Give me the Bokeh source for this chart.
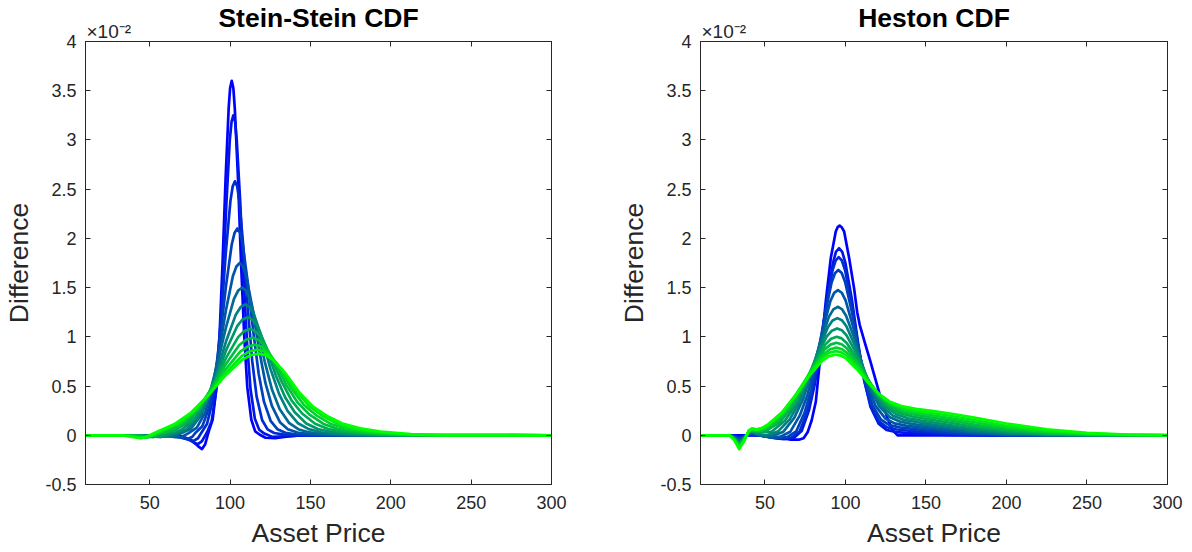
from bokeh.plotting import figure
from bokeh.models import Range1d, LinearAxis, FixedTicker, Title
from bokeh.layouts import row
from bokeh.embed import file_html
from bokeh.resources import INLINE

# ---------------- data (values in units of 1e-2) ----------------
titles = ["Stein-Stein CDF", "Heston CDF"]
x_label = "Asset Price"
y_label = "Difference"
x_ticks = [50, 100, 150, 200, 250, 300]
y_ticks = [-0.5, 0, 0.5, 1, 1.5, 2, 2.5, 3, 3.5, 4]
y_tick_labels = ["-0.5", "0", "0.5", "1", "1.5", "2", "2.5", "3", "3.5", "4"]
exp_text = "\u00d710\u207b\u00b2"

# Stein-Stein curves (x, difference), blue -> green
ss_00 = [(10,0),(60,0),(70,-0.01),(76,-0.05),(80,-0.11),(82.5,-0.14),(84.5,-0.09),(86.7,0.04),(89.1,0.158),(91.5,0.486),(93.4,1.001),(95.3,1.753),(97.2,2.614),(99.1,3.323),(100.0,3.528),(101,3.6),(102.0,3.528),(102.9,3.323),(104.9,2.614),(106.8,1.753),(108.8,1.001),(110.7,0.486),(113.2,0.158),(115.6,0.04),(118.5,0.005),(122,-0.025),(128,-0.03),(135,-0.015),(145,0),(300,0)]
ss_01 = [(10,0),(60,0),(68,-0.01),(74,-0.04),(78,-0.08),(80,-0.09),(82.5,-0.06),(85.8,0.036),(88.5,0.143),(91.2,0.439),(93.4,0.904),(95.5,1.583),(97.7,2.36),(99.8,3.0),(100.9,3.185),(102,3.25),(103.1,3.185),(104.1,3.002),(106.3,2.366),(108.4,1.592),(110.6,0.923),(112.7,0.467),(115.4,0.169),(118.1,0.056),(121.3,0.017),(126,-0.015),(134,-0.01),(145,0),(300,0)]
ss_02 = [(10,0),(58,0),(66,-0.01),(72,-0.035),(77,-0.06),(80,-0.03),(82.2,0.028),(85.6,0.114),(89.1,0.348),(91.9,0.717),(94.7,1.256),(97.4,1.873),(100.2,2.381),(101.6,2.528),(103,2.58),(104.4,2.528),(105.7,2.384),(108.4,1.883),(111.1,1.271),(113.8,0.748),(116.5,0.393),(119.9,0.155),(123.3,0.06),(127.4,0.023),(133.5,0.006),(140.2,0.001),(300,0)]
ss_03 = [(10,0),(55,0),(64,-0.01),(70,-0.025),(74,-0.035),(76.5,-0.015),(78.3,0.023),(82.7,0.092),(87.0,0.284),(90.5,0.584),(94.0,1.023),(97.5,1.525),(101.0,1.938),(102.8,2.058),(104.5,2.1),(106.2,2.058),(107.8,1.942),(111.1,1.537),(114.5,1.04),(117.8,0.622),(121.1,0.339),(125.3,0.143),(129.4,0.062),(134.4,0.026),(141.9,0.008),(150.2,0.002),(300,0)]
ss_04 = [(10,0),(52,0),(62,-0.01),(66,-0.02),(70,-0.015),(73.9,0.019),(79.3,0.077),(84.6,0.236),(88.9,0.487),(93.2,0.852),(97.4,1.271),(101.7,1.615),(103.9,1.715),(106,1.75),(108.0,1.715),(110.0,1.619),(114.0,1.285),(118.0,0.872),(122.0,0.529),(126.0,0.298),(131.0,0.133),(135.9,0.062),(141.9,0.028),(150.9,0.009),(160.9,0.002),(300,0)]
ss_05 = [(10,0),(50,0),(58,-0.01),(64,-0.015),(69.2,0.017),(75.6,0.066),(82.0,0.203),(87.1,0.417),(92.2,0.731),(97.3,1.089),(102.4,1.385),(105.0,1.47),(107.5,1.5),(109.8,1.47),(112.2,1.389),(116.8,1.104),(121.5,0.751),(126.1,0.462),(130.8,0.268),(136.6,0.126),(142.4,0.062),(149.4,0.029),(159.9,0.009),(171.5,0.002),(300,0)]
ss_06 = [(10,0),(46,0),(55,-0.01),(60,-0.015),(65.4,0.015),(72.8,0.059),(80.1,0.18),(86.0,0.37),(91.9,0.648),(97.7,0.966),(103.6,1.228),(106.6,1.303),(109.5,1.33),(112.1,1.303),(114.7,1.232),(120.0,0.982),(125.2,0.67),(130.5,0.418),(135.7,0.249),(142.3,0.122),(148.9,0.063),(156.7,0.031),(168.5,0.01),(181.7,0.002),(300,0)]
ss_07 = [(10,0),(44,0),(52,-0.012),(57,-0.018),(61.1,0.004),(69.5,0.053),(77.8,0.162),(84.4,0.334),(91.1,0.584),(97.7,0.871),(104.4,1.108),(107.7,1.176),(111,1.2),(113.9,1.176),(116.8,1.113),(122.6,0.888),(128.4,0.608),(134.3,0.384),(140.1,0.236),(147.4,0.12),(154.6,0.064),(163.3,0.032),(176.4,0.011),(191.0,0.002),(300,0)]
ss_08 = [(10,0),(42,0),(48,-0.012),(52,-0.02),(56,0.0),(65.4,0.048),(74.8,0.146),(82.3,0.3),(89.9,0.526),(97.4,0.784),(105.0,0.997),(108.7,1.058),(112.5,1.08),(115.7,1.058),(119.0,1.002),(125.4,0.801),(131.9,0.55),(138.3,0.352),(144.8,0.221),(152.9,0.117),(161.0,0.064),(170.6,0.033),(185.2,0.011),(201.3,0.002),(300,0)]
ss_09 = [(10,0),(38,0),(45,-0.012),(49,-0.022),(51.1,-0.005),(61.6,0.044),(72.1,0.134),(80.5,0.275),(88.8,0.482),(97.2,0.719),(105.6,0.914),(109.8,0.97),(114,0.99),(117.5,0.97),(121.0,0.919),(128.1,0.737),(135.1,0.507),(142.2,0.329),(149.2,0.212),(158.1,0.115),(166.9,0.065),(177.4,0.034),(193.3,0.011),(210.9,0.002),(300,0)]
ss_10 = [(10,0),(36,0),(42,-0.015),(46.5,-0.025),(52,0.0),(58.0,0.04),(69.5,0.124),(78.7,0.256),(87.9,0.448),(97.1,0.668),(106.3,0.849),(110.9,0.902),(115.5,0.92),(119.3,0.902),(123.1,0.855),(130.7,0.686),(138.3,0.473),(145.8,0.311),(153.4,0.205),(162.9,0.114),(172.4,0.066),(183.8,0.035),(200.8,0.012),(219.8,0.002),(300,0)]
ss_11 = [(10,0),(34,0),(40,-0.015),(45,-0.028),(50,-0.008),(55.1,0.035),(67.4,0.117),(77.4,0.242),(87.3,0.424),(97.2,0.632),(107.1,0.803),(112.0,0.853),(117,0.87),(121.0,0.853),(125.0,0.809),(133.0,0.651),(141.0,0.45),(149.1,0.299),(157.1,0.201),(167.1,0.115),(177.1,0.068),(189.1,0.036),(207.2,0.012),(227.2,0.002),(300,0)]
ss_12 = [(10,0),(32,0),(38,-0.015),(44,-0.03),(48,-0.015),(51.9,0.015),(65.1,0.112),(75.7,0.231),(86.3,0.404),(96.8,0.603),(107.4,0.766),(112.7,0.813),(118,0.83),(122.2,0.813),(126.4,0.772),(134.8,0.623),(143.2,0.432),(151.6,0.291),(160.0,0.199),(170.5,0.116),(181.0,0.07),(193.6,0.037),(212.5,0.012),(233.5,0.002),(300,0)]

# Heston curves (x, difference), blue -> green
hs_00 = [(10,0),(50,0),(58,-0.02),(66,-0.045),(71,-0.045),(74,-0.03),(76.5,0.03),(79,0.15),(81.6,0.34),(84.7,0.85),(87.8,1.36),(90.9,1.80),(94,2.07),(95.2,2.115),(96.4,2.13),(97.8,2.11),(99.2,2.07),(102.3,1.80),(105.4,1.49),(107.3,1.25),(108.9,1.12),(112.4,0.92),(115.5,0.75),(117.9,0.61),(122.1,0.37),(126.2,0.17),(129.3,0.05),(132.4,0.0),(300,0)]
hs_01 = [(10,0),(28,0),(34,-0.012),(40,0.004),(45,0),(50,-0.01),(56,-0.03),(62,-0.04),(68.1,-0.024),(72.8,0.044),(77.4,0.257),(81.1,0.528),(84.8,0.925),(88.6,1.379),(92.3,1.754),(94.1,1.862),(96,1.9),(98.0,1.863),(99.9,1.757),(103.9,1.39),(107.8,0.944),(111.7,0.555),(115.6,0.289),(120.6,0.118),(125.5,0.055),(131.4,0.033),(150,0.012),(165,0.004),(180,0.001),(200,0),(300,0)]
hs_02 = [(10,0),(28,0),(31,-0.008),(34,-0.023),(37,-0.01),(40,0.008),(42,0.012),(45,0.0),(48,-0.005),(54,-0.02),(60,-0.035),(66.7,-0.02),(71.6,0.04),(76.4,0.244),(80.3,0.503),(84.2,0.881),(88.0,1.314),(91.9,1.671),(93.9,1.774),(95.8,1.81),(97.8,1.775),(99.8,1.676),(103.8,1.332),(107.8,0.915),(111.8,0.55),(115.8,0.301),(120.8,0.141),(125.8,0.081),(131.8,0.059),(150,0.029),(165,0.012),(180,0.003),(200,0),(300,0)]
hs_03 = [(10,0),(28,0),(31,-0.012),(34,-0.035),(37,-0.015),(40,0.012),(42,0.018),(45,0.005),(52,-0.015),(58,-0.03),(64.1,-0.017),(69.4,0.039),(74.6,0.227),(78.8,0.467),(83.0,0.818),(87.2,1.22),(91.4,1.551),(93.5,1.646),(95.6,1.68),(97.7,1.648),(99.8,1.558),(104.1,1.244),(108.3,0.864),(112.5,0.531),(116.8,0.304),(122.1,0.158),(127.3,0.103),(133.7,0.08),(150,0.049),(165,0.024),(180,0.009),(200,0.002),(225,0),(300,0)]
hs_04 = [(10,0),(28,0),(31,-0.017),(34,-0.047),(37,-0.02),(40,0.017),(42,0.023),(45,0.008),(49,-0.01),(54,-0.025),(59.7,-0.014),(65.7,0.035),(71.6,0.199),(76.4,0.41),(81.1,0.718),(85.9,1.071),(90.6,1.361),(93.0,1.446),(95.4,1.475),(97.7,1.448),(100.1,1.37),(104.8,1.102),(109.4,0.776),(114.1,0.491),(118.8,0.296),(124.7,0.171),(130.5,0.121),(137.5,0.098),(150,0.072),(165,0.041),(180,0.019),(200,0.005),(225,0),(300,0)]
hs_05 = [(10,0),(28,0),(31,-0.021),(34,-0.058),(37,-0.025),(40,0.021),(42,0.029),(45,0.01),(50,-0.012),(54.7,-0.006),(61.5,0.037),(68.2,0.176),(73.6,0.363),(79.0,0.636),(84.4,0.947),(89.8,1.205),(92.5,1.279),(95.2,1.305),(97.8,1.282),(100.4,1.215),(105.6,0.984),(110.7,0.704),(115.9,0.46),(121.1,0.292),(127.6,0.184),(134.1,0.138),(141.8,0.114),(150,0.095),(165,0.06),(180,0.032),(200,0.01),(225,0.001),(250,0),(300,0)]
hs_06 = [(10,0),(28,0),(31,-0.025),(34,-0.07),(37,-0.03),(40,0.025),(42,0.035),(45,0.015),(50.6,-0.002),(58.0,0.037),(65.4,0.161),(71.3,0.331),(77.2,0.58),(83.2,0.864),(89.1,1.098),(92.0,1.166),(95,1.19),(97.8,1.169),(100.5,1.11),(106.1,0.906),(111.6,0.659),(117.1,0.443),(122.7,0.295),(129.6,0.198),(136.5,0.156),(144.8,0.132),(150,0.119),(165,0.082),(180,0.048),(200,0.018),(225,0.004),(250,0),(300,0)]
hs_07 = [(10,0),(28,0),(31,-0.029),(34,-0.082),(37,-0.035),(40,0.029),(42,0.041),(45,0.025),(54.3,0.038),(62.4,0.147),(68.9,0.302),(75.4,0.528),(81.8,0.788),(88.3,1.001),(91.6,1.063),(94.8,1.085),(97.8,1.067),(100.7,1.015),(106.6,0.836),(112.5,0.618),(118.4,0.428),(124.3,0.298),(131.7,0.212),(139.1,0.173),(147.9,0.147),(165,0.104),(180,0.066),(200,0.029),(225,0.008),(250,0.001),(275,0),(300,0)]
hs_08 = [(10,0),(28,0),(31,-0.033),(34,-0.093),(37,-0.04),(40,0.033),(42,0.047),(45,0.035),(50.6,0.044),(59.4,0.135),(66.4,0.278),(73.5,0.487),(80.5,0.726),(87.6,0.923),(91.1,0.98),(94.6,1.0),(97.7,0.984),(100.8,0.938),(107.1,0.779),(113.3,0.587),(119.6,0.419),(125.8,0.304),(133.6,0.226),(141.4,0.191),(150.8,0.164),(165,0.127),(180,0.087),(200,0.044),(225,0.013),(250,0.003),(275,0),(300,0)]
hs_09 = [(10,0),(28,0),(31,-0.038),(34,-0.105),(37,-0.045),(40,0.038),(42,0.053),(45,0.045),(49,0.049),(57.0,0.127),(64.5,0.261),(72.0,0.458),(79.4,0.682),(86.9,0.868),(90.7,0.921),(94.4,0.94),(97.6,0.925),(100.9,0.884),(107.3,0.741),(113.8,0.568),(120.2,0.416),(126.7,0.312),(134.7,0.242),(142.8,0.209),(152.5,0.183),(165,0.151),(180,0.109),(200,0.06),(225,0.022),(250,0.006),(275,0.001),(300,0)]
hs_10 = [(10,0),(28,0),(31,-0.042),(34,-0.117),(37,-0.05),(40,0.042),(42,0.058),(45,0.05),(49,0.066),(54.6,0.12),(62.5,0.247),(70.4,0.433),(78.4,0.646),(86.3,0.821),(90.2,0.872),(94.2,0.89),(97.5,0.877),(100.8,0.839),(107.5,0.71),(114.1,0.553),(120.8,0.416),(127.4,0.322),(135.7,0.259),(144.0,0.227),(154.0,0.203),(165,0.174),(180,0.132),(200,0.079),(225,0.033),(250,0.011),(275,0.003),(300,0)]
hs_11 = [(10,0),(28,0),(31,-0.046),(34,-0.128),(37,-0.055),(40,0.046),(42,0.064),(45,0.055),(48.5,0.074),(52.8,0.115),(61.0,0.238),(69.3,0.416),(77.5,0.621),(85.8,0.789),(89.9,0.838),(94,0.855),(97.4,0.843),(100.7,0.809),(107.4,0.69),(114.1,0.546),(120.8,0.42),(127.5,0.334),(135.9,0.276),(144.3,0.248),(154.4,0.224),(165,0.198),(180,0.155),(200,0.097),(225,0.044),(250,0.016),(275,0.005),(300,0.001)]
hs_12 = [(10,0),(28,0),(31,-0.05),(34,-0.14),(37,-0.06),(40,0.05),(42,0.07),(45,0.06),(48.5,0.075),(52.0,0.111),(60.4,0.228),(68.8,0.399),(77.2,0.595),(85.6,0.757),(89.8,0.804),(94,0.82),(97.3,0.809),(100.6,0.778),(107.3,0.669),(113.9,0.538),(120.5,0.423),(127.2,0.344),(135.5,0.293),(143.8,0.268),(153.7,0.247),(165,0.221),(180,0.179),(200,0.12),(225,0.061),(250,0.025),(275,0.008),(300,0.002)]

stein_curves = [ss_00, ss_01, ss_02, ss_03, ss_04, ss_05, ss_06, ss_07, ss_08, ss_09, ss_10, ss_11, ss_12]
heston_curves = [hs_00, hs_01, hs_02, hs_03, hs_04, hs_05, hs_06, hs_07, hs_08, hs_09, hs_10, hs_11, hs_12]

# ---------------- styling ----------------
FONT = "Liberation Sans"
AX = "#262626"


def curve_color(i, n):
    t = i / (n - 1)
    return "#%02x%02x%02x" % (0, round(255 * t), round(255 * (1 - t)))


def style_axis(ax, ticks, show_labels):
    ax.ticker = FixedTicker(ticks=ticks)
    ax.major_tick_in = 5
    ax.major_tick_out = 0
    ax.minor_tick_line_color = None
    ax.axis_line_color = AX
    ax.major_tick_line_color = AX
    ax.major_label_text_font = FONT
    ax.axis_label_text_font = FONT
    ax.axis_label_text_color = AX
    ax.axis_label_text_font_style = "normal"
    if show_labels:
        ax.major_label_text_color = AX
        ax.major_label_text_font_size = "18px"
    else:
        ax.major_label_text_color = None
        ax.major_label_text_alpha = 0
        ax.major_label_text_font_size = "1px"
        ax.major_label_standoff = 0


def make_panel(curves, title, b_left, b_right, width):
    p = figure(width=width, height=552,
               x_range=Range1d(10, 300), y_range=Range1d(-0.5, 4),
               output_backend="svg", toolbar_location=None,
               min_border_left=b_left, min_border_right=b_right,
               min_border_top=41, min_border_bottom=68)
    p.xgrid.visible = False
    p.ygrid.visible = False
    p.outline_line_color = AX
    p.outline_line_width = 1
    p.background_fill_color = "white"
    p.border_fill_color = "white"

    style_axis(p.xaxis[0], x_ticks, True)
    p.xaxis[0].axis_label = x_label
    p.xaxis[0].axis_label_text_font_size = "26.5px"
    p.xaxis[0].major_label_standoff = 11
    p.xaxis[0].axis_label_standoff = 6

    style_axis(p.yaxis[0], y_ticks, True)
    p.yaxis[0].major_label_overrides = {float(v): s for v, s in zip(y_ticks, y_tick_labels)}
    p.yaxis[0].axis_label = y_label
    p.yaxis[0].axis_label_text_font_size = "26.5px"
    p.yaxis[0].major_label_standoff = 9
    p.yaxis[0].axis_label_standoff = 8

    top = LinearAxis()
    style_axis(top, x_ticks, False)
    p.add_layout(top, "above")
    right = LinearAxis()
    style_axis(right, y_ticks, False)
    p.add_layout(right, "right")

    # exponent marker, just above the top-left corner of the box
    p.add_layout(Title(text=exp_text, align="left", offset=1, vertical_align="bottom",
                       standoff=-1, text_font=FONT, text_font_size="19px",
                       text_font_style="normal", text_color=AX), "above")

    # main title
    p.title.text = title
    p.title.align = "center"
    p.title.vertical_align = "bottom"
    p.title.standoff = -26
    p.title.text_font = FONT
    p.title.text_font_size = "26.5px"
    p.title.text_font_style = "bold"
    p.title.text_color = "black"

    n = len(curves)
    for i, pts in enumerate(curves):
        xs = [a for a, b in pts]
        ys = [b for a, b in pts]
        p.line(xs, ys, line_color=curve_color(i, n), line_width=2.7, line_join="round")
    return p


p1 = make_panel(stein_curves, titles[0], 85, 45, 596)
p2 = make_panel(heston_curves, titles[1], 104, 25, 596)
layout = row(p1, p2)

open("out.html", "w").write(file_html(layout, INLINE))
